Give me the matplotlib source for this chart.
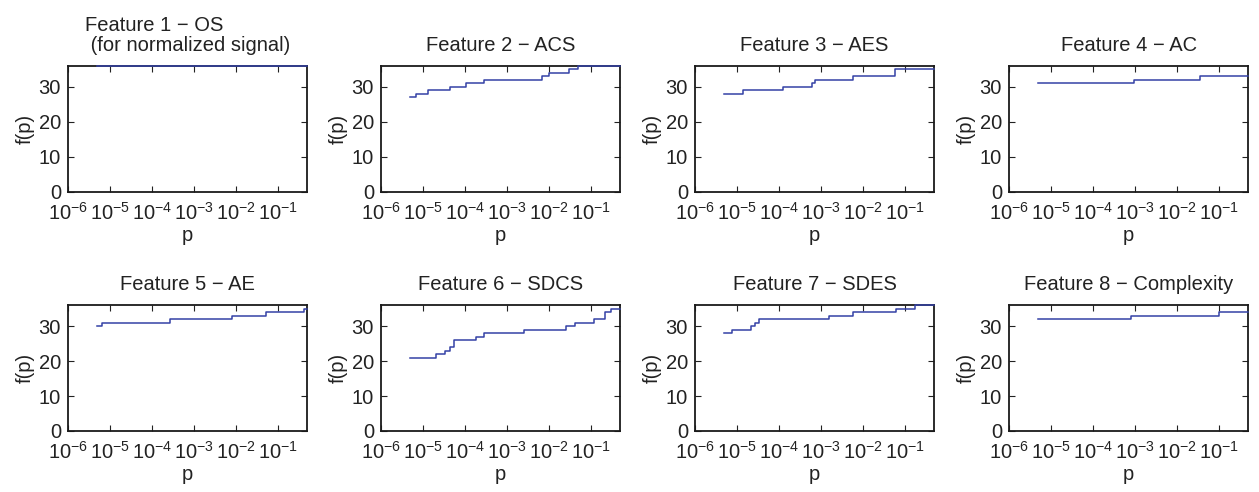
import numpy as np
import matplotlib
matplotlib.use('Agg')
import matplotlib.pyplot as plt

plt.rcParams['font.family'] = ['Liberation Sans', 'DejaVu Sans']
plt.rcParams['mathtext.fontset'] = 'custom'
plt.rcParams['mathtext.rm'] = 'Liberation Sans'
plt.rcParams['mathtext.it'] = 'Liberation Sans:italic'

# 数据：每个特征的阶梯起点 p 和对应的 f(p)
titles = ['Feature 1 \u2212 OS\n (for normalized signal)', 'Feature 2 \u2212 ACS',
          'Feature 3 \u2212 AES', 'Feature 4 \u2212 AC',
          'Feature 5 \u2212 AE', 'Feature 6 \u2212 SDCS',
          'Feature 7 \u2212 SDES', 'Feature 8 \u2212 Complexity']

p1 = [5e-6]
f1 = [36]
p2 = [5e-6, 7e-6, 1.35e-5, 4.3e-5, 1.05e-4, 2.8e-4, 6.7e-3, 1.0e-2, 3.0e-2, 4.9e-2]
f2 = [27, 28, 29, 30, 31, 32, 33, 34, 35, 36]
p3 = [5e-6, 1.43e-5, 1.26e-4, 6.0e-4, 7.1e-4, 5.8e-3, 5.9e-2]
f3 = [28, 29, 30, 31, 32, 33, 35]
p4 = [5e-6, 9.4e-4, 3.6e-2]
f4 = [31, 32, 33]
p5 = [5e-6, 6.5e-6, 2.7e-4, 8.3e-3, 5.2e-2, 0.41]
f5 = [30, 31, 32, 33, 34, 35]
p6 = [5e-6, 2.1e-5, 3.3e-5, 4.3e-5, 5.5e-5, 1.8e-4, 2.9e-4, 2.5e-3, 2.5e-2, 4.2e-2, 0.12, 0.22, 0.3]
f6 = [21, 22, 23, 24, 26, 27, 28, 29, 30, 31, 32, 34, 35]
p7 = [5e-6, 7.6e-6, 2.2e-5, 2.7e-5, 3.3e-5, 1.55e-3, 5.8e-3, 6.0e-2, 0.17]
f7 = [28, 29, 30, 31, 32, 33, 34, 35, 36]
p8 = [5e-6, 8e-4, 0.1]
f8 = [32, 33, 34]

p_all = [p1, p2, p3, p4, p5, p6, p7, p8]
f_all = [f1, f2, f3, f4, f5, f6, f7, f8]

p_max = 0.5
line_color = '#3441a6'
fs = 14.5

fig = plt.figure(figsize=(12.59, 4.92), dpi=100)
lefts = [0.054, 0.3026, 0.552, 0.8014]
bottoms = [0.610, 0.124]
w, h = 0.19, 0.256

for i in range(8):
    ax = fig.add_axes([lefts[i % 4], bottoms[i // 4], w, h])
    x = p_all[i] + [p_max]
    y = f_all[i] + [f_all[i][-1]]
    ax.step(x, y, where='post', color=line_color, linewidth=1.1, clip_on=False, zorder=5)
    ax.set_xscale('log')
    ax.set_xlim(1e-6, p_max)
    ax.set_ylim(0, 36)
    ax.set_xticks([1e-6, 1e-5, 1e-4, 1e-3, 1e-2, 1e-1])
    ax.set_yticks([0, 10, 20, 30])
    ax.tick_params(which='both', direction='in', top=True, right=True, labelsize=fs, colors='#222222')
    ax.tick_params(axis='x', which='major', pad=7)
    ax.tick_params(axis='y', which='major', pad=5)
    ax.tick_params(which='major', length=4, width=0.8)
    ax.tick_params(which='minor', length=2, width=0.6)
    for s in ax.spines.values():
        s.set_linewidth(1.3)
        s.set_color('#1a1a1a')
    if i == 0:
        ax.set_title(titles[i], fontsize=fs, pad=11, multialignment='left', color='#222222',
                     linespacing=1.05)
    else:
        ax.set_title(titles[i], fontsize=fs, pad=11, color='#222222')
    ax.set_xlabel('p', fontsize=fs, labelpad=2, color='#222222')
    ax.set_ylabel('f(p)', fontsize=fs, labelpad=3, color='#222222')

plt.savefig('out.png', dpi=100)
